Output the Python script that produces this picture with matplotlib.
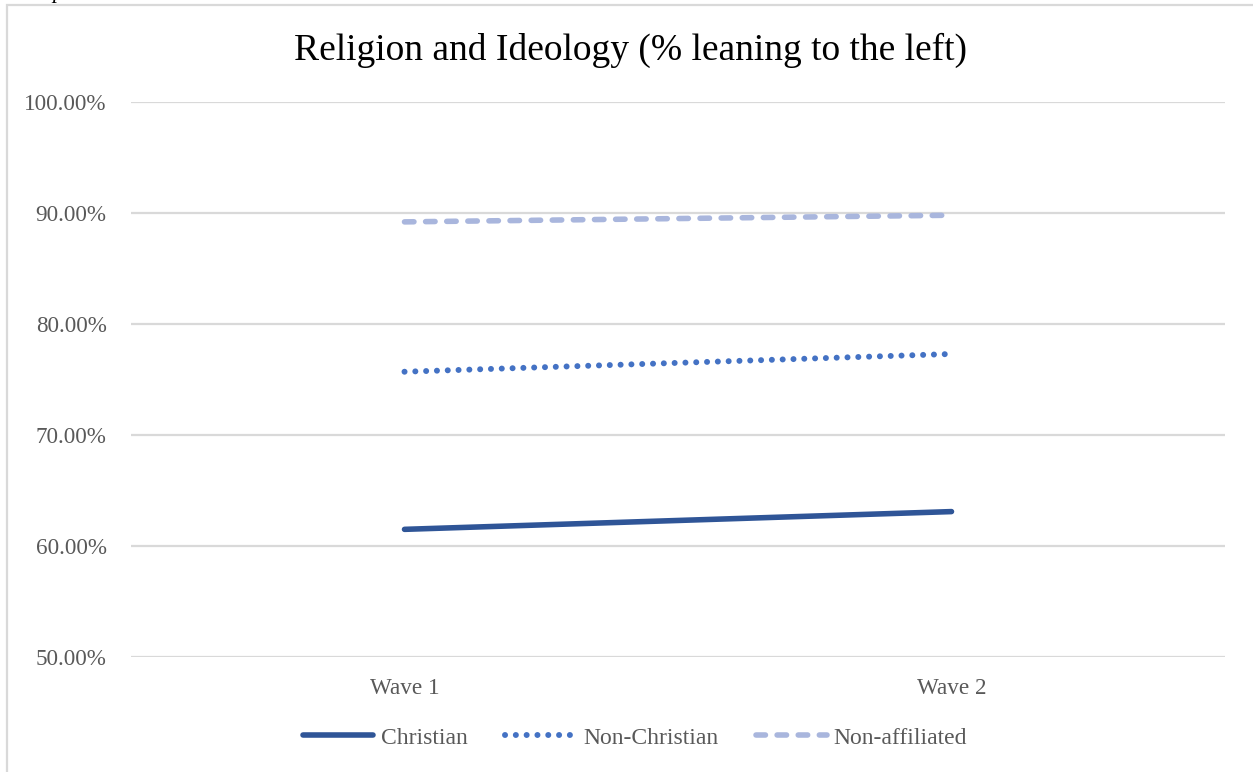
import matplotlib.pyplot as plt
from matplotlib.patches import Rectangle
from matplotlib.ticker import FuncFormatter

waves = ["Wave 1", "Wave 2"]
christian = [0.615, 0.631]
non_christian = [0.757, 0.773]
non_affiliated = [0.892, 0.898]

plt.rcParams['font.family'] = ['Liberation Serif', 'DejaVu Serif']

W, H = 1253, 772
fig = plt.figure(figsize=(W / 100, H / 100), dpi=100)
fig.patch.set_facecolor("white")

# chart frame (cut off on right and bottom)
fig.patches.append(Rectangle((7 / W, -0.1), 1.2, 1 - 5 / H + 0.1, transform=fig.transFigure,
                             fill=False, edgecolor="#D9D9D9", linewidth=1.6))
# piece of text from the page above
fig.text(52 / W, 1 + 2 / H, "p", fontsize=16, style="italic", color="black", va="baseline")

ax = fig.add_axes([131 / W, 1 - 657 / H, (1225 - 131) / W, (657 - 102) / H])
x = list(range(len(waves)))

ax.plot(x, christian, color="#2F5597", linewidth=4, solid_capstyle="round", label="Christian")
ax.plot(x, non_christian, color="#4472C4", linewidth=4.3, linestyle=(0, (0.01, 1.8)),
        dash_capstyle="round", label="Non-Christian")
ax.plot(x, non_affiliated, color="#A9B6DD", linewidth=4, linestyle=(0, (1.7, 2.1)),
        dash_capstyle="round", label="Non-affiliated")

ax.set_xlim(-0.5, 1.5)
ax.set_ylim(0.5, 1.0)
ax.set_yticks([0.5, 0.6, 0.7, 0.8, 0.9, 1.0])
ax.yaxis.set_major_formatter(FuncFormatter(lambda v, p: f"{v * 100:.2f}%"))
ax.set_xticks(x)
ax.set_xticklabels(waves)
ax.grid(axis="y", color="#D9D9D9", linewidth=1.6)
ax.set_axisbelow(True)
for s in ax.spines.values():
    s.set_visible(False)
ax.tick_params(length=0, labelsize=16.7, labelcolor="#595959")
ax.tick_params(axis="y", pad=17.5)
ax.tick_params(axis="x", pad=15)

fig.text(630 / W, 1 - 50 / H, "Religion and Ideology (% leaning to the left)",
         fontsize=27, ha="center", va="center", color="black")

fig.legend(loc="center", bbox_to_anchor=(635 / W, 1 - 738 / H), ncol=3, frameon=False,
           fontsize=17, labelcolor="#595959", handlelength=3.0, handletextpad=0.3,
           columnspacing=1.6)

fig.savefig("out.png", dpi=100)
